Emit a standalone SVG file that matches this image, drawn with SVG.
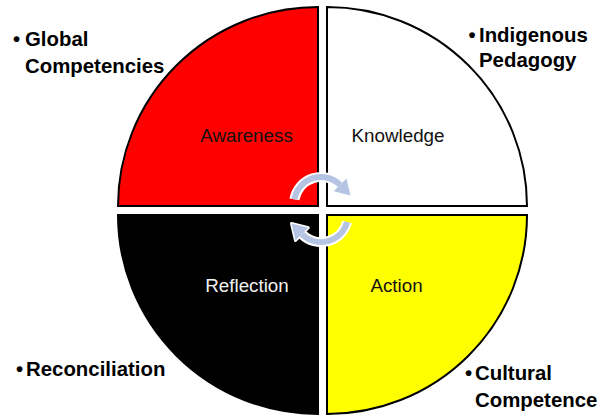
<svg xmlns="http://www.w3.org/2000/svg" width="613" height="417" viewBox="0 0 613 417">
<style>
.q{stroke:#000;stroke-width:2;stroke-linejoin:miter}
.in{font-family:"Liberation Sans",Arial,sans-serif;font-size:18.8px;text-anchor:middle}
.lb{font-family:"Liberation Sans",Arial,sans-serif;font-size:20.4px;font-weight:bold;fill:#000}
.sh{fill:none;stroke:#fff;stroke-width:10}
.sb{fill:none;stroke:#B4C4E2;stroke-width:6}
.hw{fill:#fff;stroke:#fff;stroke-width:3;stroke-linejoin:round}
.hb{fill:#B4C4E2}
</style>
<rect width="613" height="417" fill="#fff"/>
<g id="awareness">
<path class="q" fill="#FF0000" d="M318 206 L118 206 A200 199 0 0 1 318 7 Z"/>
<text class="in" x="246.5" y="142" fill="#111">Awareness</text>
</g>
<g id="knowledge">
<path class="q" fill="#FFFFFF" d="M327 206 L327 7 A200 199 0 0 1 527 206 Z"/>
<text class="in" x="398" y="142" fill="#111">Knowledge</text>
</g>
<g id="reflection">
<path class="q" fill="#000000" d="M318 215 L318 414 A200 199 0 0 1 118 215 Z"/>
<text class="in" x="247" y="292" fill="#F2F2F2">Reflection</text>
</g>
<g id="action">
<path class="q" fill="#FFFF00" d="M327 215 L527 215 A200 199 0 0 1 327 414 Z"/>
<text class="in" x="396.5" y="292" fill="#111">Action</text>
</g>
<g id="connectors">
<polygon class="hw" points="346.5,178.5 333.7,191.3 350.5,195.5"/>
<path class="sh" d="M294.4 199.3 A27 27 0 0 1 340.1 184.9"/>
<path class="sb" d="M294.4 199.3 A27 27 0 0 1 340.1 184.9"/>
<polygon class="hb" points="346.5,178.5 333.7,191.3 350.5,195.5"/>
<polygon class="hw" points="295.5,240.5 308.3,227.7 291.5,223.5"/>
<path class="sh" d="M347.1 222 A27 27 0 0 1 301.9 234.1"/>
<path class="sb" d="M347.1 222 A27 27 0 0 1 301.9 234.1"/>
<polygon class="hb" points="295.5,240.5 308.3,227.7 291.5,223.5"/>
</g>
<g id="label-global">
<text class="lb" y="46"><tspan x="13">•</tspan><tspan x="25">Global</tspan></text>
<text class="lb" x="25" y="73">Competencies</text>
</g>
<g id="label-indigenous">
<text class="lb" y="42"><tspan x="468.5">•</tspan><tspan x="479">Indigenous</tspan></text>
<text class="lb" x="479" y="67">Pedagogy</text>
</g>
<g id="label-reconciliation">
<text class="lb" y="376"><tspan x="16">•</tspan><tspan x="26">Reconciliation</tspan></text>
</g>
<g id="label-cultural">
<text class="lb" y="380"><tspan x="465">•</tspan><tspan x="475">Cultural</tspan></text>
<text class="lb" x="475" y="407">Competence</text>
</g>
</svg>
